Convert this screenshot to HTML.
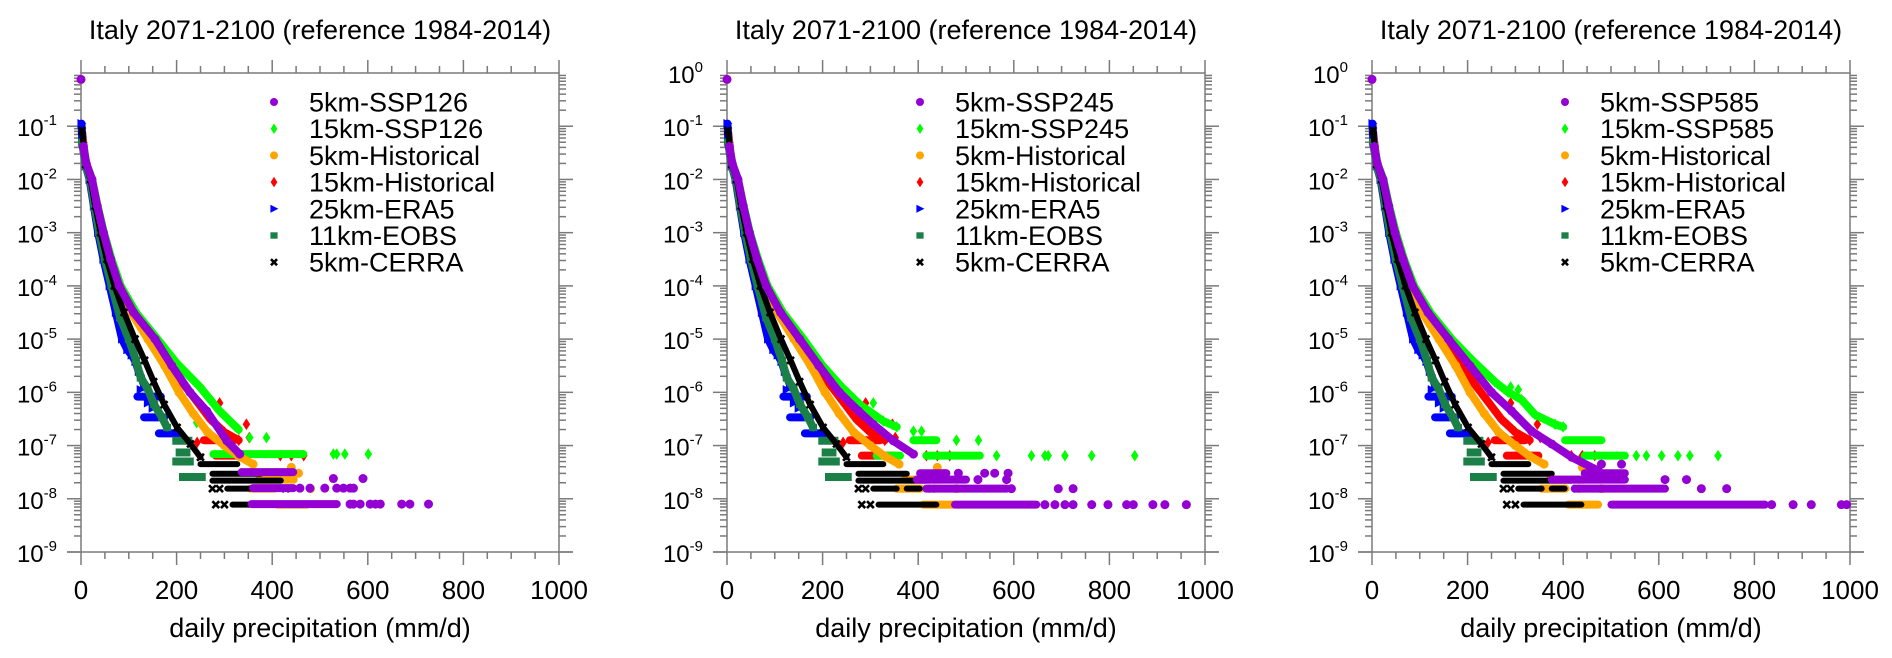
<!DOCTYPE html>
<html><head><meta charset="utf-8">
<style>
html,body{margin:0;padding:0;background:#fff;}
svg{display:block;font-family:"Liberation Sans",Arial,sans-serif;}
</style></head>
<body>
<svg id="chart" width="1892" height="658" viewBox="0 0 1892 658" xmlns="http://www.w3.org/2000/svg"></svg>
<script>
// ---------- shared observational / historical data (x mm/d, log10 probability) ----------
const histOrangeCurve = [[0,-0.12],[3,-1.3],[10,-1.7],[22,-2.0],[33,-2.5],[45,-3.0],[60,-3.5],[78,-4.0],[105,-4.5],[140,-5.0],[175,-5.5],[205,-6.0],[235,-6.4],[265,-6.75],[300,-7.0],[330,-7.2],[360,-7.35]];
const histOrangeRuns = [[372,445,-7.64],[355,405,-7.81],[411,473,-8.11]];
const histOrangePts = [[480,-7.81],[455,-7.52],[440,-7.41]];
const histRedCurve = [[2,-1.1],[10,-1.7],[22,-2.0],[33,-2.5],[46,-3.0],[61,-3.5],[80,-4.0],[110,-4.5],[148,-5.0],[182,-5.4],[215,-5.85],[245,-6.2],[270,-6.5],[300,-6.75],[330,-6.9]];
const histRedRuns = [[257,320,-6.9],[282,348,-7.19]];
const histRedPts = [[243,-6.94],[417,-7.19],[440,-7.19],[466,-7.19],[346,-6.6],[290,-6.2],[352,-6.85]];
const era5Curve = [[1,-0.95],[3,-1.3],[10,-1.75],[18,-2.0],[27,-2.5],[36,-3.0],[47,-3.5],[60,-4.0],[73,-4.5],[86,-5.0],[97,-5.2],[106,-5.3],[114,-5.42],[121,-5.61],[132,-5.86]];
const era5Runs = [[118,167,-6.08],[132,174,-6.47],[163,208,-6.77]];
const era5Pts = [[125,-5.95],[140,-6.2],[150,-6.3]];
const eobsCurve = [[2,-1.3],[10,-1.75],[19,-2.0],[28,-2.5],[38,-3.0],[50,-3.5],[64,-4.0],[82,-4.6],[100,-5.0],[115,-5.4],[125,-5.73],[139,-5.92],[153,-6.23],[170,-6.48],[180,-6.66]];
const eobsRuns = [[191,233,-6.91],[198,229,-7.13],[191,236,-7.3],[205,261,-7.59]];
const cerraCurve = [[2,-1.08],[10,-1.72],[20,-2.0],[30,-2.5],[41,-3.0],[54,-3.5],[70,-4.0],[90,-4.5],[113,-5.0],[133,-5.4],[152,-5.8],[174,-6.23],[201,-6.66],[229,-6.97],[250,-7.22]];
const cerraRuns = [[250,327,-7.35],[275,376,-7.53],[275,418,-7.66],[306,355,-7.81],[376,403,-7.81],[317,438,-8.11]];
const cerraPts = [[275,-7.81],[290,-7.81],[428,-7.81],[282,-8.11],[300,-8.11]];

// ---------- scenario data per panel ----------
const ssp126PurpleCurve = [[0,-0.12],[5,-1.38],[11,-1.7],[23,-2.0],[34,-2.5],[47,-3.0],[62,-3.5],[80,-4.0],[110,-4.5],[155,-5.0],[190,-5.5],[228,-6.0],[263,-6.35],[305,-6.91],[332,-7.16]];
const ssp126PurpleRuns = [[336,444,-7.5],[360,444,-7.8],[357,535,-8.1]];
const ssp126PurplePts = [[528,-7.62],[590,-7.62],[458,-7.8],[479,-7.8],[510,-7.8],[535,-7.8],[549,-7.8],[563,-7.8],[570,-7.8],[563,-8.1],[570,-8.1],[584,-8.1],[605,-8.1],[616,-8.1],[626,-8.1],[671,-8.1],[688,-8.1],[727,-8.1]];
const ssp126GreenCurve = [[2,-1.2],[11,-1.7],[23,-2.0],[35,-2.5],[48,-3.0],[64,-3.5],[83,-4.0],[115,-4.5],[160,-5.0],[200,-5.45],[249,-5.9],[290,-6.35],[330,-6.7]];
const ssp126GreenRuns = [[277,465,-7.16]];
const ssp126GreenPts = [[242,-6.57],[353,-6.85],[388,-6.85],[528,-7.16],[535,-7.16],[552,-7.16],[601,-7.16]];

const ssp245PurpleCurve = [[0,-0.12],[5,-1.38],[11,-1.7],[23,-2.0],[34,-2.5],[47,-3.0],[63,-3.5],[82,-4.0],[112,-4.5],[152,-5.0],[192,-5.5],[235,-6.0],[275,-6.35],[306,-6.6],[348,-6.91],[390,-7.16]];
const ssp245PurpleRuns = [[404,459,-7.52],[397,500,-7.64],[417,585,-7.81],[477,647,-8.11]];
const ssp245PurplePts = [[484,-7.52],[539,-7.52],[560,-7.52],[588,-7.52],[525,-7.64],[585,-7.64],[595,-7.81],[693,-7.81],[724,-7.81],[665,-8.11],[686,-8.11],[707,-8.11],[724,-8.11],[763,-8.11],[797,-8.11],[836,-8.11],[850,-8.11],[891,-8.11],[916,-8.11],[961,-8.11]];
const ssp245GreenCurve = [[2,-1.2],[11,-1.7],[23,-2.0],[35,-2.5],[48,-3.0],[65,-3.5],[85,-4.0],[117,-4.5],[160,-5.0],[200,-5.5],[240,-5.9],[278,-6.23],[327,-6.54],[355,-6.65]];
const ssp245GreenRuns = [[390,438,-6.9],[313,362,-7.19],[417,529,-7.19]];
const ssp245GreenPts = [[306,-6.2],[480,-6.9],[526,-6.9],[390,-6.73],[407,-6.73],[564,-7.19],[637,-7.19],[665,-7.19],[672,-7.19],[707,-7.19],[763,-7.19],[853,-7.19]];

const ssp585PurpleCurve = [[0,-0.12],[5,-1.38],[11,-1.7],[23,-2.0],[35,-2.5],[48,-3.0],[65,-3.5],[85,-4.0],[117,-4.5],[160,-5.0],[205,-5.5],[250,-6.0],[292,-6.35],[334,-6.73],[376,-6.97],[418,-7.22],[473,-7.47]];
const ssp585PurpleRuns = [[445,529,-7.52],[376,529,-7.64],[424,613,-7.81],[501,822,-8.11]];
const ssp585PurplePts = [[480,-7.35],[522,-7.35],[613,-7.64],[658,-7.64],[689,-7.81],[742,-7.81],[836,-8.11],[881,-8.11],[919,-8.11],[982,-8.11],[993,-8.11]];
const ssp585GreenCurve = [[2,-1.2],[11,-1.7],[24,-2.0],[36,-2.5],[50,-3.0],[67,-3.5],[88,-4.0],[122,-4.5],[167,-5.0],[210,-5.4],[257,-5.8],[285,-6.0],[313,-6.14],[341,-6.42],[383,-6.6],[400,-6.65]];
const ssp585GreenRuns = [[404,480,-6.9],[445,529,-7.19]];
const ssp585GreenPts = [[290,-5.9],[306,-5.95],[553,-7.19],[574,-7.19],[606,-7.19],[640,-7.19],[665,-7.19],[724,-7.19]];

const xTicks = [0,200,400,600,800,1000];
const yTickExps = [0,-1,-2,-3,-4,-5,-6,-7,-8,-9];
const panelTitles = ["Italy 2071-2100 (reference 1984-2014)","Italy 2071-2100 (reference 1984-2014)","Italy 2071-2100 (reference 1984-2014)"];
const scenarioNames = ["SSP126","SSP245","SSP585"];

const NS = "http://www.w3.org/2000/svg";
const svg = document.getElementById('chart');
function mk(tag, attrs, parent){ const e=document.createElementNS(NS,tag); for(const k in attrs) e.setAttribute(k,attrs[k]); (parent||svg).appendChild(e); return e; }

const PANEL_LEFTS=[81,727,1372], PW=478, TOP=73, BOT=552, LTOP=0, LBOT=-9;
const COL={purple:"#9400d3",green:"#00ff00",orange:"#ffa500",red:"#ff0000",blue:"#0000ff",eobs:"#1a8048",black:"#000000"};

function marker(g, shape, color, cx, cy, s){
  let e;
  if(shape==='circle') e=mk('circle',{cx:cx,cy:cy,r:s*0.5,fill:color},g);
  else if(shape==='diamond') e=mk('polygon',{points:`${cx},${cy-s*0.65} ${cx+s*0.42},${cy} ${cx},${cy+s*0.65} ${cx-s*0.42},${cy}`,fill:color},g);
  else if(shape==='tri') e=mk('polygon',{points:`${cx-s*0.45},${cy-s*0.5} ${cx+s*0.55},${cy} ${cx-s*0.45},${cy+s*0.5}`,fill:color},g);
  else if(shape==='square') e=mk('rect',{x:cx-s*0.45,y:cy-s*0.4,width:s*0.9,height:s*0.8,fill:color},g);
  else { e=mk('path',{d:`M${cx-s*0.38},${cy-s*0.38}L${cx+s*0.38},${cy+s*0.38}M${cx+s*0.38},${cy-s*0.38}L${cx-s*0.38},${cy+s*0.38}`,stroke:color,'stroke-width':2.6,fill:'none'},g); }
  return e;
}

function drawPanel(pi){
  const L=PANEL_LEFTS[pi];
  const xs=v=>L+v/1000*PW;
  const ys=l=>TOP+(LTOP-l)/(LTOP-LBOT)*(BOT-TOP);
  const g=mk('g',{});
  
  
  const t=mk('text',{x:L+PW/2,y:39,'font-size':27,'text-anchor':'middle',fill:'#000'},g);
  t.textContent=panelTitles[pi];
  
  
  const ax=mk('g',{stroke:'#7a7a7a','stroke-width':1.5,fill:'none'},g);
  
  
  mk('rect',{x:L,y:TOP,width:PW,height:BOT-TOP},ax);
  for(let v=0; v<=1000; v+=50){
    const major=v%200===0, len=major?13:7, x=xs(v);
    mk('line',{x1:x,y1:BOT,x2:x,y2:BOT+len},ax);
    mk('line',{x1:x,y1:TOP,x2:x,y2:TOP-len},ax);
  }
  for(let d=LTOP; d>LBOT; d--){
    for(let m=1;m<10;m++){
      const l=d-1+Math.log10(m); if(l<LBOT) continue;
      const y=ys(l), len=m===1?14:7;
      mk('line',{x1:L,y1:y,x2:L-len,y2:y},ax);
      mk('line',{x1:L+PW,y1:y,x2:L+PW+len,y2:y},ax);
    }
  }
  mk('line',{x1:L,y1:BOT,x2:L-14,y2:BOT},ax);
  mk('line',{x1:L+PW,y1:BOT,x2:L+PW+14,y2:BOT},ax);
  xTicks.forEach(v=>{
    const tx=mk('text',{x:xs(v),y:599,'font-size':26,'text-anchor':'middle',fill:'#000'},g);
    tx.textContent=String(v);
    
    
  });
  yTickExps.forEach(e=>{
    if(e===0 && pi===0) return;
    const ty=mk('text',{x:L-24,y:ys(e)+10,'font-size':24,'text-anchor':'end',fill:'#000'},g);
    
    
    const b=mk('tspan',{},ty); b.textContent='10';
    const s=mk('tspan',{'font-size':15,dy:-11},ty); s.textContent=String(e);
  });
  const xt=mk('text',{x:L+PW/2,y:637,'font-size':27,'text-anchor':'middle',fill:'#000'},g);
  xt.textContent='daily precipitation (mm/d)';
  
  

  const sc=[ [ssp126PurpleCurve,ssp126PurpleRuns,ssp126PurplePts,ssp126GreenCurve,ssp126GreenRuns,ssp126GreenPts],
             [ssp245PurpleCurve,ssp245PurpleRuns,ssp245PurplePts,ssp245GreenCurve,ssp245GreenRuns,ssp245GreenPts],
             [ssp585PurpleCurve,ssp585PurpleRuns,ssp585PurplePts,ssp585GreenCurve,ssp585GreenRuns,ssp585GreenPts] ][pi];
  const series=[
    {name:'5km-'+scenarioNames[pi],color:COL.purple,shape:'circle',curve:sc[0],runs:sc[1],pts:sc[2]},
    {name:'15km-'+scenarioNames[pi],color:COL.green,shape:'diamond',curve:sc[3],runs:sc[4],pts:sc[5]},
    {name:'5km-Historical',color:COL.orange,shape:'circle',curve:histOrangeCurve,runs:histOrangeRuns,pts:histOrangePts},
    {name:'15km-Historical',color:COL.red,shape:'diamond',curve:histRedCurve,runs:histRedRuns,pts:histRedPts},
    {name:'25km-ERA5',color:COL.blue,shape:'tri',curve:era5Curve,runs:era5Runs,pts:era5Pts},
    {name:'11km-EOBS',color:COL.eobs,shape:'square',curve:eobsCurve,runs:eobsRuns,pts:[]},
    {name:'5km-CERRA',color:COL.black,shape:'x',curve:cerraCurve,runs:cerraRuns,pts:cerraPts}
  ];
  const clip=mk('clipPath',{id:'clip'+pi},g);
  mk('rect',{x:L-6,y:TOP-6,width:PW+12,height:BOT-TOP+12},clip);
  const order=[3,1,2,4,5,6,0];
  order.forEach(i=>{
    const s=series[i];
    const sg=mk('g',{'clip-path':`url(#clip${pi})`},g);
    
    
    const c=s.curve.filter(p=>p[0]>0.5);
    if(c.length>1){
      const d=c.map((p,k)=>(k?'L':'M')+xs(p[0]).toFixed(1)+','+ys(p[1]).toFixed(1)).join('');
      const band=mk('path',{d:d,stroke:s.color,'stroke-width':s.shape==='x'?6:8,fill:'none','stroke-linecap':'round','stroke-linejoin':'round'},sg);
      
      
    }
    s.curve.forEach(p=>{
      const m=marker(sg,s.shape,s.color,xs(p[0]),ys(p[1]),9);
      
      
    });
    s.runs.forEach(r=>{
      const rr=mk('line',{x1:xs(r[0]),y1:ys(r[2]),x2:xs(r[1]),y2:ys(r[2]),stroke:s.color,'stroke-width':s.shape==='x'?6:8,'stroke-linecap':s.shape==='square'?'butt':'round'},sg);
      
      
    });
    s.pts.forEach(p=>{
      const m=marker(sg,s.shape,s.color,xs(p[0]),ys(p[1]),9);
      
      
    });
  });
  const lg=mk('g',{},g);
  
  
  series.forEach((s,i)=>{
    const y=102+26.7*i;
    const eg=mk('g',{},lg);
    
    
    marker(eg,s.shape,s.color,L+193,y,8);
    const lt=mk('text',{x:L+228,y:y+9.5,'font-size':27,fill:'#000'},eg);
    lt.textContent=s.name;
  });
}
[0,1,2].forEach(drawPanel);
</script>
</body></html>
